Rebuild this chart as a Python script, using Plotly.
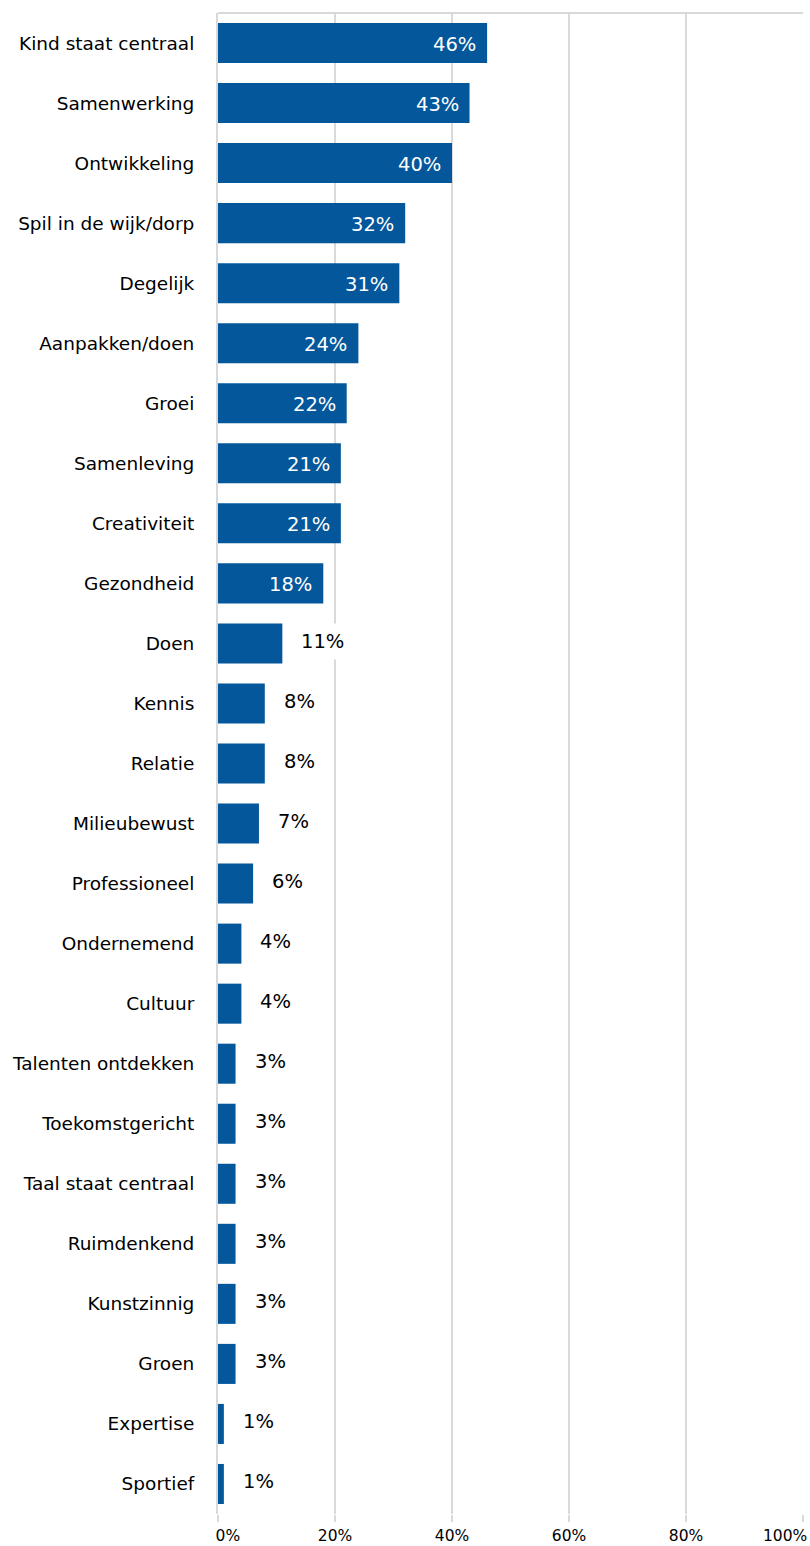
import plotly.graph_objects as go

categories = [
    "Kind staat centraal", "Samenwerking", "Ontwikkeling", "Spil in de wijk/dorp",
    "Degelijk", "Aanpakken/doen", "Groei", "Samenleving", "Creativiteit",
    "Gezondheid", "Doen", "Kennis", "Relatie", "Milieubewust", "Professioneel",
    "Ondernemend", "Cultuur", "Talenten ontdekken", "Toekomstgericht",
    "Taal staat centraal", "Ruimdenkend", "Kunstzinnig", "Groen", "Expertise",
    "Sportief",
]
values = [46, 43, 40, 32, 31, 24, 22, 21, 21, 18, 11, 8, 8, 7, 6, 4, 4, 3, 3, 3, 3, 3, 3, 1, 1]

tick_values = [0, 20, 40, 60, 80, 100]
# the first label is nudged right with no-break spaces; the last one is
# written separately (right-aligned) so it stays inside the figure
NBSP = "\u00a0"
tick_labels = [NBSP * 4 + "0%", "20%", "40%", "60%", "80%", "100%"]
axis_ticktext = tick_labels[:-1] + [""]

BAR_COLOR = "#03579a"
GRID_COLOR = "#d9d9d9"
FONT = "DejaVu Sans"
INSIDE_MIN = 15  # values at or above this get their label inside the bar

fig = go.Figure(
    go.Bar(
        x=values,
        y=categories,
        orientation="h",
        marker=dict(color=BAR_COLOR, line=dict(width=0)),
        width=0.667,
        hoverinfo="skip",
    )
)

annotations = []
for cat, v in zip(categories, values):
    if v >= INSIDE_MIN:
        annotations.append(dict(
            x=v, y=cat, xref="x", yref="y", text=f"{v}%", showarrow=False,
            xanchor="right", yanchor="middle", xshift=-9, yshift=-1,
            font=dict(family=FONT, size=19.5, color="#ffffff"),
        ))
    else:
        annotations.append(dict(
            x=v, y=cat, xref="x", yref="y", text=f"{v}%", showarrow=False,
            xanchor="left", yanchor="middle", xshift=12, yshift=2,
            bgcolor="#ffffff", borderpad=6,
            font=dict(family=FONT, size=19.5, color="#000000"),
        ))

# last axis label, right-aligned against the figure edge
annotations.append(dict(
    x=tick_values[-1], y=0, xref="x", yref="paper", text=tick_labels[-1],
    showarrow=False, xanchor="right", yanchor="top", xshift=5, yshift=-12,
    borderpad=0, font=dict(family=FONT, size=15.5, color="#000000"),
))

fig.update_layout(
    width=810,
    height=1546,
    margin=dict(l=218, r=7, t=13, b=32, autoexpand=False),
    paper_bgcolor="#ffffff",
    plot_bgcolor="#ffffff",
    showlegend=False,
    bargap=0.333,
    annotations=annotations,
    shapes=[dict(
        type="line", xref="paper", yref="paper", x0=0, x1=1, y0=1, y1=1,
        line=dict(color=GRID_COLOR, width=2), layer="below",
    )],
    font=dict(family=FONT, color="#000000"),
)

fig.update_xaxes(
    range=[0, 100],
    tickvals=tick_values,
    ticktext=axis_ticktext,
    showgrid=True,
    gridcolor=GRID_COLOR,
    gridwidth=2,
    zeroline=False,
    showline=False,
    ticks="outside",
    ticklen=7,
    tickwidth=2,
    tickcolor=GRID_COLOR,
    ticklabeloverflow="allow",
    ticklabelstandoff=0,
    automargin=False,
    tickfont=dict(family=FONT, size=15.5, color="#000000"),
    fixedrange=True,
)

fig.update_yaxes(
    categoryorder="array",
    categoryarray=categories,
    autorange="reversed",
    showgrid=False,
    zeroline=False,
    showline=True,
    linecolor=GRID_COLOR,
    linewidth=2,
    ticks="",
    ticklabelstandoff=18,
    automargin=False,
    tickfont=dict(family=FONT, size=18.5, color="#000000"),
    fixedrange=True,
)

fig.write_html("out.html")
